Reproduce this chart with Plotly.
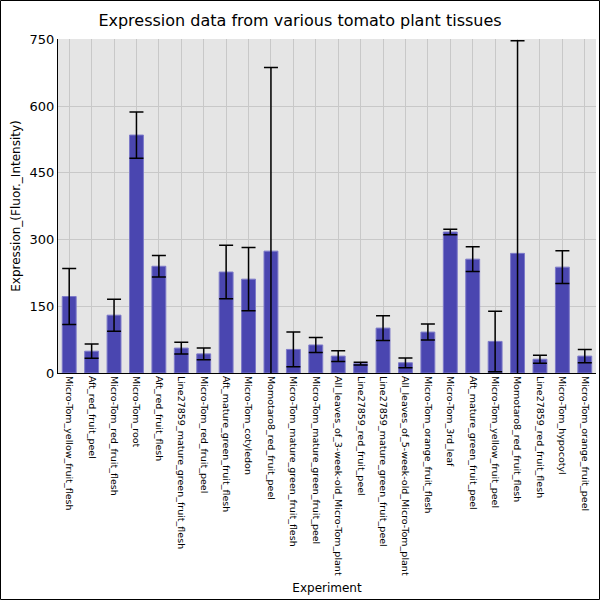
import plotly.graph_objects as go

# --- Data ---
experiments = [
    "Micro-Tom_yellow_fruit_flesh", "Aft_red_fruit_peel", "Micro-Tom_red_fruit_flesh",
    "Micro-Tom_root", "Aft_red_fruit_flesh", "Line27859_mature_green_fruit_flesh",
    "Micro-Tom_red_fruit_peel", "Aft_mature_green_fruit_flesh", "Micro-Tom_cotyledon",
    "Momotaro8_red_fruit_peel", "Micro-Tom_mature_green_fruit_flesh",
    "Micro-Tom_mature_green_fruit_peel", "All_leaves_of_3-week-old_Micro-Tom_plant",
    "Line27859_red_fruit_peel", "Line27859_mature_green_fruit_peel",
    "All_leaves_of_5-week-old_Micro-Tom_plant", "Micro-Tom_orange_fruit_flesh",
    "Micro-Tom_3rd_leaf", "Aft_mature_green_fruit_peel", "Micro-Tom_yellow_fruit_peel",
    "Momotaro8_red_fruit_flesh", "Line27859_red_fruit_flesh", "Micro-Tom_hypocotyl",
    "Micro-Tom_orange_fruit_peel",
]
expression = [172, 49, 130, 535, 240, 56, 43, 227, 211, 274, 53,
              63, 38, 21, 101, 23, 92, 317, 256, 71, 269, 31, 238, 38]
error = [63, 16, 36, 52, 24, 13, 13, 60, 71, 413, 39,
         17, 12, 3, 28, 11, 18, 6, 28, 68, 478, 9, 37, 15]
y_ticks = [0, 150, 300, 450, 600, 750]

FONT = "DejaVu Sans"

fig = go.Figure()
fig.add_trace(go.Bar(
    x=experiments, y=expression,
    marker=dict(color="#4a46b0", line=dict(color="#7d7ac8", width=1)),
    error_y=dict(type="data", array=error, visible=True,
                 color="black", thickness=1.5, width=7),
    width=0.62,
))

fig.update_layout(
    width=600, height=600,
    margin=dict(l=58, r=4, t=39, b=227),
    paper_bgcolor="white", plot_bgcolor="#e5e5e5",
    font=dict(family=FONT, color="black"),
    title=dict(text="Expression data from various tomato plant tissues",
               x=0.5, xanchor="center", y=0.966, yanchor="middle",
               font=dict(size=16, family=FONT)),
    showlegend=False,
    shapes=[dict(type="rect", xref="paper", yref="paper",
                 x0=-57.5 / 538, x1=1 + 3.5 / 538, y0=-226.5 / 334, y1=1 + 38.5 / 334,
                 line=dict(color="black", width=1), fillcolor="rgba(0,0,0,0)", layer="below")],
)
fig.update_xaxes(
    title=dict(text="Experiment", font=dict(size=12, family=FONT), standoff=8),
    tickangle=90, tickfont=dict(size=9.5, family=FONT),
    showgrid=True, gridcolor="#c8c8c8", gridwidth=1,
    showline=True, linecolor="black", linewidth=1,
    ticks="", ticklen=0,
)
fig.update_yaxes(
    title=dict(text="Expression_(Fluor._Intensity)", font=dict(size=12, family=FONT), standoff=6),
    range=[0, 751], tickvals=y_ticks, tickfont=dict(size=13, family=FONT),
    showgrid=True, gridcolor="#c8c8c8", gridwidth=1,
    showline=True, linecolor="black", linewidth=1,
    zeroline=False, ticks="",
)

# the page's default body margin would push the 600x600 figure off screen
fig.write_html("out.html", config={"displayModeBar": False},
               post_script="document.body.style.margin='0';document.body.style.overflow='hidden';")
